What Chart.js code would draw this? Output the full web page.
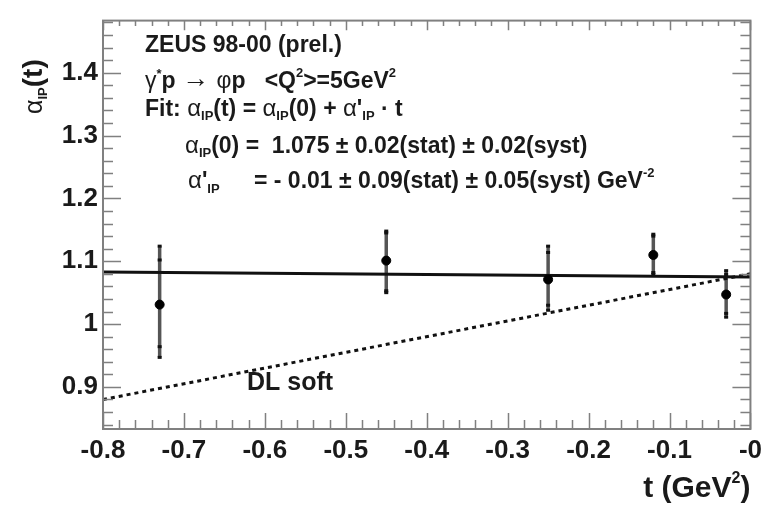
<!DOCTYPE html>
<html>
<head>
<meta charset="utf-8">
<script src="https://cdn.jsdelivr.net/npm/chart.js@4.4.1/dist/chart.umd.min.js"></script>
<style>
  body { margin: 0; background: #fff; }
  #wrap { width: 768px; height: 505px; }
</style>
</head>
<body>
<div id="wrap"><canvas id="alphaChart" width="768" height="505"></canvas></div>
<script>
// measured points: t, alpha_IP and the error bar ends (inner = stat, outer = total)
var tValues = [-0.73, -0.45, -0.25, -0.12, -0.03];
var alphaValues = [1.031, 1.101, 1.071, 1.110, 1.047];
var statLow = [0.964, 1.053, 1.030, 1.082, 1.017];
var statHigh = [1.102, 1.145, 1.114, 1.140, 1.079];
var totLow = [0.947, 1.050, 1.022, 1.079, 1.011];
var totHigh = [1.124, 1.148, 1.124, 1.143, 1.085];

// fit result and DL soft trajectory
var fitAlpha0 = 1.075;
var fitSlope = -0.01;
var dlAlpha0 = 1.08;
var dlSlope = 0.25;
var lineT = [-0.8, 0];

var xTickValues = [-0.8, -0.7, -0.6, -0.5, -0.4, -0.3, -0.2, -0.1, 0];
var xTickLabels = ['-0.8', '-0.7', '-0.6', '-0.5', '-0.4', '-0.3', '-0.2', '-0.1', '-0'];
var yTickValues = [0.9, 1.0, 1.1, 1.2, 1.3, 1.4];
var yTickLabels = ['0.9', '1', '1.1', '1.2', '1.3', '1.4'];

var FONT = "'Liberation Sans', Arial, Helvetica, sans-serif";

var points = tValues.map(function (t, i) { return { x: t, y: alphaValues[i] }; });
var fitLine = lineT.map(function (t) { return { x: t, y: fitAlpha0 + fitSlope * t }; });
var dlLine = lineT.map(function (t) { return { x: t, y: dlAlpha0 + dlSlope * t }; });

// draws a run of text pieces: {t, size, bold, dy}
function drawRich(ctx, x, y, parts) {
    parts.forEach(function (p) {
        ctx.font = (p.bold === false ? '' : 'bold ') + p.size + 'px ' + FONT;
        ctx.fillText(p.t, x, y + (p.dy || 0));
        x += ctx.measureText(p.t).width + (p.gap || 0);
    });
    return x;
}

var errorBars = {
    id: 'errorBars',
    beforeDatasetsDraw: function (chart) {
        var ctx = chart.ctx, xs = chart.scales.x, ys = chart.scales.y;
        ctx.save();
        tValues.forEach(function (t, i) {
            var px = xs.getPixelForValue(t);
            ctx.strokeStyle = '#555';
            ctx.lineWidth = 3.5;
            ctx.beginPath();
            ctx.moveTo(px, ys.getPixelForValue(totHigh[i]));
            ctx.lineTo(px, ys.getPixelForValue(totLow[i]));
            ctx.stroke();
            // small dark marks at the stat and total ends
            ctx.fillStyle = '#111';
            [statLow[i], statHigh[i], totLow[i], totHigh[i]].forEach(function (v) {
                ctx.fillRect(px - 2, ys.getPixelForValue(v) - 1.5, 4, 3);
            });
        });
        ctx.restore();
    }
};

var frameAndText = {
    id: 'frameAndText',
    afterDraw: function (chart) {
        var ctx = chart.ctx, a = chart.chartArea, xs = chart.scales.x, ys = chart.scales.y;
        ctx.save();
        // frame with inward ticks on all four sides
        ctx.strokeStyle = '#808080';
        ctx.lineWidth = 2;
        ctx.strokeRect(a.left, a.top, a.right - a.left, a.bottom - a.top);
        ctx.lineWidth = 1.5;
        ctx.beginPath();
        var i, v, p, len;
        for (i = 0; i <= 40; i++) {
            v = -0.8 + i * 0.02;
            p = Math.round(xs.getPixelForValue(v)) + 0.5;
            len = (i % 5 === 0) ? 16 : 9;
            ctx.moveTo(p, a.bottom); ctx.lineTo(p, a.bottom - len);
            ctx.moveTo(p, a.top); ctx.lineTo(p, a.top + len * 0.6);
        }
        for (i = 0; i <= 40; i++) {
            v = 0.82 + i * 0.02;
            if (v < ys.min || v > ys.max) continue;
            p = Math.round(ys.getPixelForValue(v)) + 0.5;
            len = (i % 5 === 4) ? 18 : 10;
            ctx.moveTo(a.left, p); ctx.lineTo(a.left + len, p);
            ctx.moveTo(a.right, p); ctx.lineTo(a.right - len, p);
        }
        ctx.stroke();

        ctx.fillStyle = '#1a1a1a';
        ctx.textBaseline = 'alphabetic';
        ctx.textAlign = 'left';

        drawRich(ctx, 145, 52, [{ t: 'ZEUS 98-00 (prel.)', size: 23 }]);

        drawRich(ctx, 145, 88, [
            { t: 'γ', size: 23, bold: false },
            { t: '*', size: 13, dy: -10 },
            { t: 'p ', size: 23 },
            { t: '→ ', size: 27, bold: false, dy: -1 },
            { t: 'φ', size: 23, bold: false },
            { t: 'p   <Q', size: 23 },
            { t: '2', size: 13, dy: -11 },
            { t: '>=5GeV', size: 23 },
            { t: '2', size: 13, dy: -11 }
        ]);

        drawRich(ctx, 145, 116, [
            { t: 'Fit: ', size: 23 },
            { t: 'α', size: 24, bold: false },
            { t: 'IP', size: 13, dy: 4 },
            { t: '(t) = ', size: 23 },
            { t: 'α', size: 24, bold: false },
            { t: 'IP', size: 13, dy: 4 },
            { t: '(0) + ', size: 23 },
            { t: 'α', size: 24, bold: false },
            { t: "'", size: 23 },
            { t: 'IP', size: 13, dy: 4 },
            { t: ' · t', size: 23 }
        ]);

        drawRich(ctx, 185, 153, [
            { t: 'α', size: 24, bold: false },
            { t: 'IP', size: 13, dy: 4 },
            { t: '(0) =  ' + fitAlpha0.toFixed(3) + ' ± 0.02(stat) ± 0.02(syst)', size: 23 }
        ]);

        drawRich(ctx, 188, 188, [
            { t: 'α', size: 24, bold: false },
            { t: "'", size: 23 },
            { t: 'IP', size: 13, dy: 5 }
        ]);
        drawRich(ctx, 254, 188, [
            { t: '= - ' + Math.abs(fitSlope).toFixed(2) + ' ± 0.09(stat) ± 0.05(syst) GeV', size: 23 },
            { t: '-2', size: 13, dy: -11 }
        ]);

        drawRich(ctx, 247, 390, [{ t: 'DL soft', size: 25 }]);

        // x axis title, right aligned to the frame
        ctx.font = 'bold 30px ' + FONT;
        var w1 = ctx.measureText('t (GeV').width;
        ctx.font = 'bold 16px ' + FONT;
        var w2 = ctx.measureText('2').width;
        ctx.font = 'bold 30px ' + FONT;
        var w3 = ctx.measureText(')').width;
        drawRich(ctx, a.right - w1 - w2 - w3, 497, [
            { t: 't (GeV', size: 30 },
            { t: '2', size: 16, dy: -14 },
            { t: ')', size: 30 }
        ]);

        // y axis title, rotated, ending near the top of the frame
        ctx.translate(42, 114);
        ctx.rotate(-Math.PI / 2);
        drawRich(ctx, 0, 0, [
            { t: 'α', size: 25, bold: false },
            { t: 'IP', size: 13, dy: 5 },
            { t: '(t)', size: 28 }
        ]);
        ctx.restore();
    }
};

new Chart('alphaChart', {
    type: 'scatter',
    data: {
        datasets: [{
            data: points,
            backgroundColor: '#000',
            borderColor: '#000',
            pointRadius: 4.5,
            pointHoverRadius: 4.5
        }, {
            data: fitLine,
            showLine: true,
            borderColor: '#111',
            borderWidth: 3,
            pointRadius: 0
        }, {
            data: dlLine,
            showLine: true,
            borderColor: '#111',
            borderWidth: 3,
            borderDash: [4, 4],
            pointRadius: 0
        }]
    },
    options: {
        responsive: false,
        animation: false,
        events: [],
        layout: { padding: { top: 14, right: 11, left: 0, bottom: 0 }, autoPadding: false },
        plugins: { legend: { display: false }, tooltip: { enabled: false } },
        scales: {
            x: {
                type: 'linear',
                min: -0.8,
                max: 0,
                grid: { display: false, drawTicks: false },
                border: { display: false },
                afterBuildTicks: function (s) { s.ticks = xTickValues.map(function (v) { return { value: v }; }); },
                afterFit: function (s) { s.height = 76; },
                ticks: {
                    padding: 6,
                    maxRotation: 0,
                    autoSkip: false,
                    color: '#1a1a1a',
                    font: { family: FONT, size: 26, weight: 'bold' },
                    callback: function (v, i) { return xTickLabels[i]; }
                }
            },
            y: {
                min: 0.833,
                max: 1.483,
                grid: { display: false, drawTicks: false },
                border: { display: false },
                afterBuildTicks: function (s) { s.ticks = yTickValues.map(function (v) { return { value: v }; }); },
                afterFit: function (s) { s.width = 103; },
                ticks: {
                    padding: 5,
                    autoSkip: false,
                    color: '#1a1a1a',
                    font: { family: FONT, size: 26, weight: 'bold' },
                    callback: function (v, i) { return yTickLabels[i]; }
                }
            }
        }
    },
    plugins: [errorBars, frameAndText]
});
</script>
</body>
</html>
